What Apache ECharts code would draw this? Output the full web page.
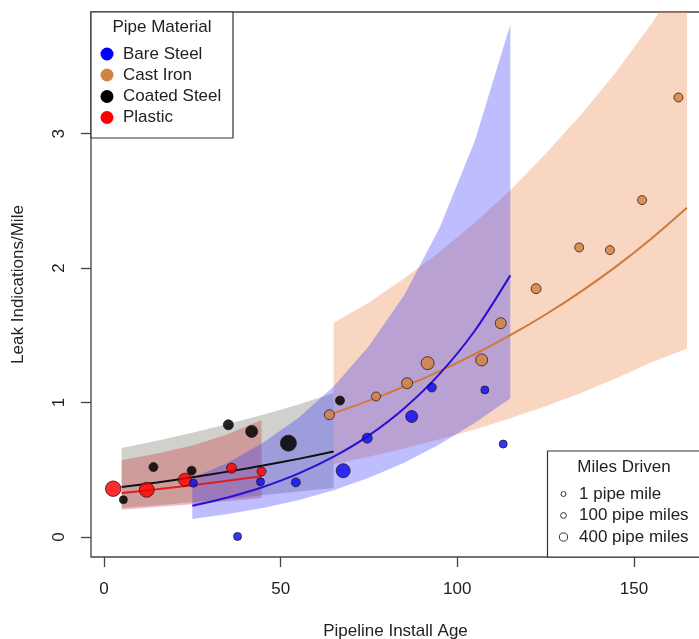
<!DOCTYPE html>
<html>
<head>
<meta charset="utf-8">
<script src="https://cdn.jsdelivr.net/npm/echarts@6/dist/echarts.min.js"></script>
<style>html,body{margin:0;padding:0;background:#fff}#c{width:699px;height:639px}</style>
</head>
<body>
<div id="c"></div>
<script>
// ---- axis ticks ----
const xTicks = [0, 50, 100, 150];
const yTicks = [0, 1, 2, 3];

// ---- observed points: install age, leak indications / mile, pipe miles driven ----
const bareAge   = [25.3, 37.8, 44.3, 54.3, 67.7, 74.5, 87.1, 92.8, 107.8, 113.0];
const bareRate  = [0.40, 0.004, 0.41, 0.406, 0.493, 0.735, 0.896, 1.112, 1.094, 0.691];
const bareMiles = [375, 375, 375, 500, 1125, 625, 875, 500, 375, 375];

const castAge   = [63.8, 77.0, 85.8, 91.6, 106.9, 112.3, 122.3, 134.5, 143.2, 152.3, 162.6];
const castRate  = [0.909, 1.045, 1.144, 1.293, 1.317, 1.59, 1.847, 2.154, 2.134, 2.506, 3.269];
const castMiles = [625, 500, 750, 1000, 875, 750, 625, 500, 500, 500, 500];

const coatAge   = [5.5, 14.0, 24.8, 35.2, 41.8, 52.2, 66.8];
const coatRate  = [0.277, 0.52, 0.493, 0.834, 0.785, 0.698, 1.015];
const coatMiles = [375, 500, 500, 625, 875, 1375, 500];

const plasAge   = [2.6, 12.1, 22.9, 36.1, 44.6];
const plasRate  = [0.359, 0.351, 0.426, 0.512, 0.487];
const plasMiles = [1300, 1250, 1000, 625, 500];

// ---- fitted curves and bands ----
const bareX   = [25, 35, 45, 55, 65, 75, 85, 95, 105, 115];
const bareFit = [0.232, 0.294, 0.372, 0.471, 0.597, 0.756, 0.958, 1.213, 1.536, 1.946];
const bareLo  = [0.133, 0.17, 0.215, 0.273, 0.347, 0.44, 0.553, 0.69, 0.85, 1.03];
const bareHi  = [0.44, 0.55, 0.70, 0.885, 1.12, 1.42, 1.80, 2.30, 2.95, 3.81];

const castX   = [65, 75, 85, 95, 105, 115, 125, 135, 145, 155, 165];
const castFit = [0.920, 1.014, 1.119, 1.234, 1.361, 1.501, 1.655, 1.825, 2.013, 2.220, 2.448];
const castLo  = [0.541, 0.596, 0.658, 0.726, 0.80, 0.883, 0.973, 1.07, 1.18, 1.30, 1.40];
const castHi  = [1.594, 1.745, 1.925, 2.12, 2.34, 2.58, 2.85, 3.14, 3.46, 3.82, 4.21];

const coatX   = [5, 15, 25, 35, 45, 55, 65];
const coatFit = [0.371, 0.406, 0.444, 0.486, 0.531, 0.581, 0.636];
const coatLo  = [0.215, 0.236, 0.258, 0.283, 0.31, 0.338, 0.364];
const coatHi  = [0.661, 0.715, 0.775, 0.84, 0.91, 0.985, 1.07];

const plasX   = [5, 15, 25, 35, 44.6];
const plasFit = [0.327, 0.355, 0.385, 0.418, 0.452];
const plasLo  = [0.203, 0.222, 0.243, 0.265, 0.29];
const plasHi  = [0.57, 0.62, 0.68, 0.765, 0.871];

// ---- legend text ----
const materials = ['Bare Steel', 'Cast Iron', 'Coated Steel', 'Plastic'];
const milesLegend = [1, 100, 400];
const milesLegendText = ['1 pipe mile', '100 pipe miles', '400 pipe miles'];

const FONT = '"Liberation Sans", Arial, Helvetica, sans-serif';
const FS = 17;
const matColor = {
  'Bare Steel': '#0000ff', 'Cast Iron': '#cd853f', 'Coated Steel': '#000000', 'Plastic': '#ff0000'
};
const ptFill = {
  'Bare Steel': 'rgba(10,10,245,0.82)', 'Cast Iron': 'rgba(210,130,60,0.82)',
  'Coated Steel': 'rgba(0,0,0,0.85)', 'Plastic': 'rgba(255,0,0,0.82)'
};
function sizeOf(m) { return 5 + 0.008 * m; }

function band(xs, lo, hi, color, z) {
  return {
    type: 'custom', clip: true, silent: true, z: z,
    data: xs.map((x, i) => [x, lo[i], hi[i]]),
    renderItem: function (params, api) {
      if (params.dataIndex !== 0) return null;
      const pts = [];
      for (let i = 0; i < xs.length; i++) pts.push(api.coord([xs[i], hi[i]]));
      for (let i = xs.length - 1; i >= 0; i--) pts.push(api.coord([xs[i], lo[i]]));
      return { type: 'polygon', shape: { points: pts }, style: { fill: color } };
    }
  };
}
function fitLine(xs, ys, color, z) {
  return {
    type: 'line', data: xs.map((x, i) => [x, ys[i]]), showSymbol: false, smooth: 0.3,
    silent: true, z: z, lineStyle: { color: color, width: 2 }
  };
}
function pts(name, ages, rates, miles, z) {
  return {
    type: 'scatter', name: name, z: z,
    data: ages.map((a, i) => [a, rates[i], miles[i]]),
    symbolSize: v => sizeOf(v[2]),
    itemStyle: { color: ptFill[name], borderColor: 'rgba(40,20,20,0.85)', borderWidth: 0.9, opacity: 1 }
  };
}

// ---- legends as graphics ----
const graphics = [];
graphics.push({ type: 'rect', z: 100, shape: { x: 91, y: 12, width: 142, height: 126 },
  style: { fill: '#fff', stroke: '#333', lineWidth: 1.2 } });
graphics.push({ type: 'text', z: 101, x: 162, y: 27,
  style: { text: 'Pipe Material', font: FS + 'px ' + FONT, fill: '#222', textAlign: 'center', textVerticalAlign: 'middle' } });
const legY = [54, 75, 96.5, 117.5];
materials.forEach((m, i) => {
  graphics.push({ type: 'circle', z: 101, shape: { cx: 107, cy: legY[i], r: 6.5 }, style: { fill: matColor[m] } });
  graphics.push({ type: 'text', z: 101, x: 123, y: legY[i],
    style: { text: m, font: FS + 'px ' + FONT, fill: '#222', textVerticalAlign: 'middle' } });
});
graphics.push({ type: 'rect', z: 100, shape: { x: 547.5, y: 451, width: 200, height: 106 },
  style: { fill: '#fff', stroke: '#333', lineWidth: 1.2 } });
graphics.push({ type: 'text', z: 101, x: 624, y: 467,
  style: { text: 'Miles Driven', font: FS + 'px ' + FONT, fill: '#222', textAlign: 'center', textVerticalAlign: 'middle' } });
const leg2Y = [494, 515.5, 537];
milesLegend.forEach((m, i) => {
  graphics.push({ type: 'circle', z: 101, shape: { cx: 563.5, cy: leg2Y[i], r: sizeOf(m) / 2 },
    style: { fill: 'none', stroke: '#333', lineWidth: 1 } });
  graphics.push({ type: 'text', z: 101, x: 579, y: leg2Y[i],
    style: { text: milesLegendText[i], font: FS + 'px ' + FONT, fill: '#222', textVerticalAlign: 'middle' } });
});

const chart = echarts.init(document.getElementById('c'), null, { renderer: 'canvas' });
chart.setOption({
  animation: false,
  backgroundColor: '#fff',
  grid: { left: 91, right: -1, top: 12, bottom: 82, show: true, outerBoundsMode: 'none', containLabel: false,
    borderColor: '#444', borderWidth: 1.3, backgroundColor: 'transparent' },
  xAxis: {
    type: 'value', min: -3.68, max: 168.7,
    name: 'Pipeline Install Age', nameLocation: 'middle', nameGap: 66,
    nameTextStyle: { fontFamily: FONT, fontSize: FS, color: '#222' },
    axisLine: { show: false, onZero: false }, splitLine: { show: false },
    axisTick: { show: true, inside: false, customValues: xTicks, length: 10, lineStyle: { color: '#444', width: 1.3 } },
    axisLabel: { customValues: xTicks, margin: 24, fontFamily: FONT, fontSize: FS, color: '#222' }
  },
  yAxis: {
    type: 'value', min: -0.149, max: 3.905,
    name: 'Leak Indications/Mile', nameLocation: 'middle', nameGap: 64, nameRotate: 90,
    nameTextStyle: { fontFamily: FONT, fontSize: FS, color: '#222' },
    axisLine: { show: false, onZero: false }, splitLine: { show: false },
    axisTick: { show: true, inside: false, customValues: yTicks, length: 10, lineStyle: { color: '#444', width: 1.3 } },
    axisLabel: { customValues: yTicks, rotate: 90, margin: 23, fontFamily: FONT, fontSize: FS, color: '#222' }
  },
  series: [
    band(castX, castLo, castHi, 'rgba(238,140,85,0.36)', 1),
    band(coatX, coatLo, coatHi, 'rgba(110,110,100,0.32)', 2),
    band(plasX, plasLo, plasHi, 'rgba(200,20,20,0.28)', 3),
    band(bareX, bareLo, bareHi, 'rgba(40,40,255,0.3)', 4),
    fitLine(castX, castFit, '#cd7a3a', 5),
    fitLine(coatX, coatFit, '#111111', 5),
    fitLine(plasX, plasFit, '#dd2020', 5),
    fitLine(bareX, bareFit, '#2a10d0', 5),
    pts('Cast Iron', castAge, castRate, castMiles, 6),
    pts('Coated Steel', coatAge, coatRate, coatMiles, 6),
    pts('Plastic', plasAge, plasRate, plasMiles, 6),
    pts('Bare Steel', bareAge, bareRate, bareMiles, 6)
  ],
  graphic: graphics
});
</script>
</body>
</html>
